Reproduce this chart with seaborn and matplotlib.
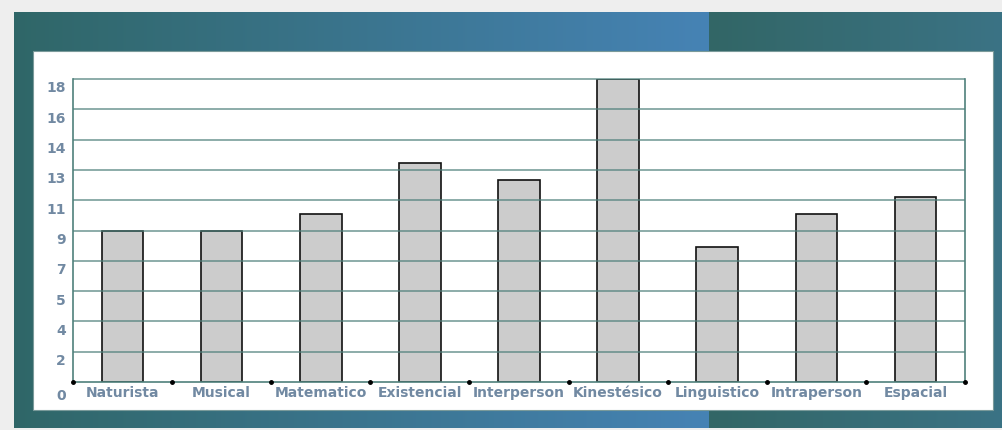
import numpy as np
import matplotlib
matplotlib.use('Agg')
import matplotlib.pyplot as plt
import matplotlib.transforms as mtransforms
import seaborn as sns
from matplotlib.colors import to_rgb

# Chart data
categories = ['Naturista', 'Musical', 'Matematico', 'Existencial', 'Interperson',
              'Kinestésico', 'Linguistico', 'Intraperson', 'Espacial']
values = [9, 9, 10, 13, 12, 18, 8, 10, 11]
y_max = 18
y_tick_labels = ['0', '2', '4', '5', '7', '9', '11', '13', '14', '16', '18']

sns.set_style('white')
plt.rcParams['font.family'] = ['Verdana', 'DejaVu Sans']

W, H = 1003, 430
fig = plt.figure(figsize=(W / 100, H / 100), dpi=100)
fig.patch.set_facecolor('#eeeeee')

# Background frame with horizontal gradient
bg = fig.add_axes([0, 0, 1, 1])
bg.set_xlim(0, W)
bg.set_ylim(H, 0)
bg.axis('off')
img = np.zeros((1, W, 3))
c1, c2 = np.array(to_rgb('#2f6666')), np.array(to_rgb('#4683b5'))
c3, c4 = np.array(to_rgb('#326666')), np.array(to_rgb('#3b7385'))
split = 709
for i in range(W):
    if i < split:
        t = i / split
        img[0, i] = c1 * (1 - t) + c2 * t
    else:
        t = (i - split) / (W - split)
        img[0, i] = c3 * (1 - t) + c4 * t
bg.imshow(img[:, 14:], extent=[14, W, 428, 12], aspect='auto')
bg.add_patch(plt.Rectangle((33, 51), 960, 359, facecolor='white',
                           edgecolor='#7a9a9a', linewidth=0.8))

# Plot area
left, right, top, bottom = 73, 965, 79, 382
ax = fig.add_axes([left / W, (H - bottom) / H, (right - left) / W, (bottom - top) / H])
ax.set_facecolor('none')
sns.barplot(x=categories, y=values, color='#cccccc', saturation=1,
            edgecolor='#111111', linewidth=1.2, width=0.42, ax=ax)
ax.set_xlim(-0.5, len(categories) - 0.5)
ax.set_ylim(0, y_max)

grid_color = '#4f807b'
yticks = np.linspace(0, y_max, len(y_tick_labels))
ax.hlines(yticks[1:], -0.5, len(categories) - 0.5, colors=grid_color,
          linewidth=1.3, alpha=0.7, zorder=5, clip_on=False)
for s in ['left', 'right', 'bottom']:
    ax.spines[s].set_color(grid_color)
    ax.spines[s].set_linewidth(1.2)
ax.spines['top'].set_visible(False)

label_color = '#7189a2'
ax.set_yticks(yticks)
ax.set_yticklabels(y_tick_labels, fontsize=10, fontweight='bold', color=label_color)
ax.set_xticks(range(len(categories)))
ax.set_xticklabels(categories, fontsize=10, fontweight='bold', color=label_color)
ax.tick_params(axis='both', length=0)
ax.tick_params(axis='y', pad=5)
ax.tick_params(axis='x', pad=3)

# y labels sit a little below their gridlines
shift = mtransforms.ScaledTranslation(0, -8 / 100, fig.dpi_scale_trans)
for lbl in ax.get_yticklabels():
    lbl.set_transform(lbl.get_transform() + shift)
ax.get_yticklabels()[0].set_transform(
    ax.get_yticklabels()[0].get_transform() + mtransforms.ScaledTranslation(0, -4 / 100, fig.dpi_scale_trans))

# boundary dots on the x axis
bounds = np.arange(len(categories) + 1) - 0.5
ax.plot(bounds, np.zeros_like(bounds), 'o', color='black', markersize=2.5,
        clip_on=False, zorder=6)

ax.set_xlabel('')
ax.set_ylabel('')
fig.savefig('out.png', dpi=100, facecolor=fig.get_facecolor())
